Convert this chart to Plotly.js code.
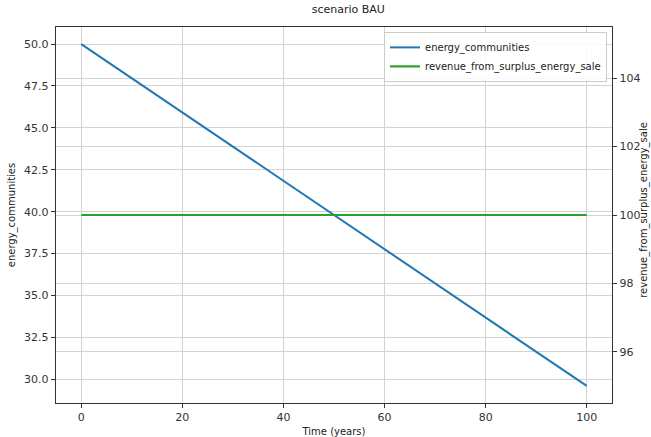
<!DOCTYPE html>
<html>
<head>
<meta charset="utf-8">
<script src="https://cdn.plot.ly/plotly-3.0.1.min.js"></script>
<style>html,body{margin:0;padding:0;background:#fff;}#chart{width:651px;height:437px;}</style>
</head>
<body>
<div id="chart"></div>
<script>
var years = [0, 10, 20, 30, 40, 50, 60, 70, 80, 90, 100];
var energyCommunities = [50.0, 47.96, 45.92, 43.88, 41.84, 39.8, 37.76, 35.72, 33.68, 31.64, 29.6];
var revenueFromSurplus = [100, 100, 100, 100, 100, 100, 100, 100, 100, 100, 100];

var traces = [
  {x: years, y: energyCommunities, name: 'energy_communities', type: 'scatter', mode: 'lines',
   line: {color: '#1f77b4', width: 2}, yaxis: 'y'},
  {x: years, y: revenueFromSurplus, name: 'revenue_from_surplus_energy_sale', type: 'scatter', mode: 'lines',
   line: {color: '#2ca02c', width: 2.2}, yaxis: 'y2'}
];

var axisCommon = {
  showline: true, linecolor: '#333', linewidth: 1.2,
  ticks: 'outside', ticklen: 4, tickcolor: '#333', tickwidth: 1,
  showgrid: true, gridcolor: '#d3d3d3', gridwidth: 1,
  zeroline: false, tickfont: {size: 11, color: '#333', family: 'DejaVu Sans'}
};

var layout = {
  width: 651, height: 437,
  margin: {l: 56, r: 39, t: 27, b: 34},
  paper_bgcolor: '#fff', plot_bgcolor: '#fff',
  font: {family: 'DejaVu Sans', size: 10, color: '#222'},
  title: {text: 'scenario BAU', font: {size: 11, color: '#222'}, x: 0.535, xanchor: 'center', y: 0.978, yref: 'container', yanchor: 'middle'},
  showlegend: true,
  legend: {x: 0.991, y: 0.987, xanchor: 'right', yanchor: 'top', bgcolor: 'rgba(255,255,255,0.85)',
           bordercolor: '#ccc', borderwidth: 1, font: {size: 10, color: '#222'}, tracegroupgap: 0},
  xaxis: Object.assign({}, axisCommon, {range: [-5, 105], tickvals: [0, 20, 40, 60, 80, 100], mirror: true,
    title: {text: 'Time (years)', font: {size: 10, color: '#222'}, standoff: 4}}),
  yaxis: Object.assign({}, axisCommon, {range: [28.58, 51.02], tickvals: [30, 32.5, 35, 37.5, 40, 42.5, 45, 47.5, 50],
    tickformat: '.1f', mirror: false,
    title: {text: 'energy_communities', font: {size: 10, color: '#222'}, standoff: 6}}),
  yaxis2: Object.assign({}, axisCommon, {range: [94.5, 105.5], tickvals: [96, 98, 100, 102, 104], overlaying: 'y', side: 'right'}),
  annotations: [{text: 'revenue_from_surplus_energy_sale', xref: 'paper', yref: 'paper', x: 1.057, y: 0.513,
    xanchor: 'center', yanchor: 'middle', textangle: -90, showarrow: false, font: {size: 10, color: '#222'}}]
};

Plotly.newPlot('chart', traces, layout, {displayModeBar: false, staticPlot: true});
</script>
</body>
</html>
